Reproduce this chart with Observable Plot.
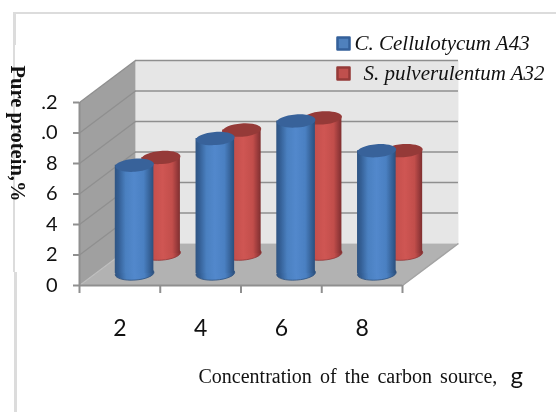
<!DOCTYPE html>
<html>
<head>
<meta charset="utf-8">
<script src="https://cdn.jsdelivr.net/npm/d3@7"></script>
<script src="https://cdn.jsdelivr.net/npm/@observablehq/plot@0.6"></script>
<style>
html,body{margin:0;padding:0;background:#fff;overflow:hidden}
#wrap{position:relative;width:556px;height:412px}
#wrap svg{position:absolute;left:0;top:0;filter:blur(0.35px)}
.edge{position:absolute;background:#dcdcdc}
</style>
</head>
<body>
<div id="wrap">
<div class="edge" style="left:14px;top:12px;width:542px;height:1.5px"></div>
<div class="edge" style="left:13px;top:12px;width:3px;height:33px"></div>
<div class="edge" style="left:13px;top:45px;width:1.5px;height:227px"></div>
<div class="edge" style="left:14px;top:272px;width:2.5px;height:140px"></div>
</div>
<script>
const categories = ["2", "4", "6", "8"];
const celluloValues = [7.1, 8.85, 10.0, 8.05];
const pulverValues = [6.3, 8.1, 8.9, 6.75];
const seriesNames = ["C. Cellulotycum A43", "S. pulverulentum A32"];
const yTicks = [0, 2, 4, 6, 8, 10, 12];
const yTickLabels = ["0", "2", "4", "6", "8", ".0", ".2"];
const xTitle = "Concentration of the carbon source,";
const xTitleUnit = "g";
const yTitle = "Pure protein,%";

// oblique projection expressed in data units
const DX = 0.693, DY = 2.754;
const px = (x, d) => x + d * DX - 0.016;
const py = (y, d) => y + d * DY;
const R = 0.239;
const XMAX = categories.length;
const YMAX = 12;

const ellipse = {
  draw(c, size) {
    const r = Math.sqrt(size / Math.PI), q = r * 0.34, k = 0.5523;
    c.moveTo(-r, 0);
    c.bezierCurveTo(-r, -q * k, -r * k, -q, 0, -q);
    c.bezierCurveTo(r * k, -q, r, -q * k, r, 0);
    c.bezierCurveTo(r, q * k, r * k, q, 0, q);
    c.bezierCurveTo(-r * k, q, -r, q * k, -r, 0);
    c.closePath();
  }
};

const grad = (id, stops) =>
  `<linearGradient id="${id}" x1="0" x2="1" y1="0" y2="0">` +
  stops.map(([o, s]) => `<stop offset="${o}" stop-color="${s}"/>`).join("") +
  `</linearGradient>`;

const defs = () => {
  const d = d3.create("svg:defs");
  d.html(
    grad("blueBody", [[0, "#2f5482"], [0.1, "#345f95"], [0.28, "#4a80c0"], [0.5, "#5288cc"], [0.75, "#4a80c2"], [0.92, "#345f94"], [1, "#2c4f7c"]]) +
    grad("redBody", [[0, "#a03f3c"], [0.3, "#c44f4c"], [0.55, "#cf5653"], [0.8, "#c24e4b"], [0.93, "#96393a"], [1, "#7f3030"]])
  );
  return d.node();
};

function cylinders(values, depth, body, top, rim) {
  const data = values.map((v, i) => ({ i, v }));
  const X = (d) => px(d.i + 0.5, depth);
  const opts = { symbol: ellipse, r: 19.4, rotate: -4 };
  return [
    Plot.dot(data, { x: X, y: () => py(0, depth), fill: "url(#" + body + ")", stroke: rim, strokeWidth: 0.8, ...opts }),
    Plot.rect(data, {
      x1: (d) => X(d) - R, x2: (d) => X(d) + R,
      y1: () => py(0, depth), y2: (d) => py(d.v, depth),
      fill: "url(#" + body + ")"
    }),
    Plot.dot(data, { x: X, y: (d) => py(d.v, depth), fill: top, ...opts })
  ];
}

const poly = (pts, o) => Plot.line(pts, { x: "x", y: "y", ...o });
const sideWall = [{x:0,y:0},{x:DX,y:DY},{x:DX,y:YMAX+DY},{x:0,y:YMAX},{x:0,y:0}];
const backWall = [{x:DX,y:DY},{x:XMAX+DX,y:DY},{x:XMAX+DX,y:YMAX+DY},{x:DX,y:YMAX+DY},{x:DX,y:DY}];
const floor = [{x:0,y:0},{x:XMAX,y:0},{x:XMAX+DX,y:DY},{x:DX,y:DY},{x:0,y:0}];
const GRID = "#8f8f8f";
const SERIF = "Liberation Serif";

const plot = Plot.plot({
  width: 556, height: 412,
  marginLeft: 79, marginRight: 154, marginTop: 102, marginBottom: 127,
  style: { background: "transparent", overflow: "visible" },
  x: { domain: [0, XMAX], axis: null },
  y: { domain: [0, YMAX], axis: null },
  marks: [
    defs,
    poly(backWall, { fill: "#e6e6e6", stroke: "none" }),
    poly(sideWall, { fill: "#a0a0a0", stroke: "none" }),
    poly(floor, { fill: "#b2b2b2", stroke: "none" }),
    Plot.ruleY(yTicks.filter((t) => t > 0), { y: (t) => py(t, 1), x1: DX, x2: XMAX + DX, stroke: GRID, strokeWidth: 1.6 }),
    Plot.link(yTicks.filter((t) => t > 0), { x1: 0, y1: (t) => t, x2: DX, y2: (t) => py(t, 1), stroke: GRID, strokeWidth: 1.3 }),
    Plot.link([0], { x1: 0, y1: 0, x2: DX, y2: DY, stroke: "#bdbdbd", strokeWidth: 1.2 }),
    Plot.link([0], { x1: XMAX, y1: 0, x2: XMAX + DX, y2: DY, stroke: "#a3a3a3", strokeWidth: 1.5 }),
    Plot.ruleY([0], { x1: 0, x2: XMAX, stroke: GRID, strokeWidth: 2 }),
    Plot.ruleX([0], { y1: 0, y2: YMAX, stroke: GRID, strokeWidth: 2 }),
    ...cylinders(pulverValues, 0.76, "redBody", "#953a38", "#93393a"),
    ...cylinders(celluloValues, 0.286, "blueBody", "#38629a", "#2f5482"),
    Plot.axisY(yTicks, {
      anchor: "left", tickSize: 6, tickPadding: 16, stroke: GRID, strokeWidth: 2,
      tickFormat: (t) => yTickLabels[yTicks.indexOf(t)],
      fontFamily: "Lato, sans-serif", fontSize: 20, color: "#111", label: null
    }),
    Plot.axisX(d3.range(0, XMAX + 1), {
      anchor: "bottom", tickSize: 8, stroke: GRID, strokeWidth: 2, tickFormat: () => "", label: null
    }),
    Plot.text(categories, {
      x: (d, i) => i + 0.5, y: 0, text: (d) => d, dy: 43,
      fontFamily: "Lato, sans-serif", fontSize: 23, fill: "#111"
    }),
    Plot.text([yTitle], {
      frameAnchor: "top-left", dx: -54, dy: -37, rotate: 90, textAnchor: "start",
      fontFamily: SERIF, fontWeight: "bold", fontSize: 20.5, fill: "#111"
    }),
    Plot.text([xTitle], {
      frameAnchor: "bottom-left", dx: 119, dy: 97, textAnchor: "start",
      fontFamily: SERIF, fontSize: 20,
      fill: "#111",
      render(index, scales, values, dims, ctx, next) {
        const g = next(index, scales, values, dims, ctx);
        g.setAttribute("word-spacing", "3.2");
        return g;
      }
    }),
    Plot.text([xTitleUnit], {
      frameAnchor: "bottom-left", dx: 431, dy: 98, textAnchor: "start",
      fontFamily: "Lato, sans-serif", fontSize: 24, fill: "#111"
    }),
    Plot.dot([0], { frameAnchor: "top-left", dx: 264, dy: -59, symbol: "square", r: 6.8, fill: "#4f81bd", stroke: "#34609a", strokeWidth: 2.5, strokeLinejoin: "round" }),
    Plot.dot([0], { frameAnchor: "top-left", dx: 264, dy: -29, symbol: "square", r: 6.8, fill: "#c0504d", stroke: "#953a38", strokeWidth: 2.5, strokeLinejoin: "round" }),
    Plot.text([seriesNames[0]], {
      frameAnchor: "top-left", dx: 275, dy: -67, textAnchor: "start",
      fontFamily: SERIF, fontStyle: "italic", fontSize: 21, fill: "#111"
    }),
    Plot.text([seriesNames[1]], {
      frameAnchor: "top-left", dx: 284, dy: -37, textAnchor: "start",
      fontFamily: SERIF, fontStyle: "italic", fontSize: 21, fill: "#111"
    })
  ]
});
document.getElementById("wrap").appendChild(plot);
</script>
</body>
</html>
